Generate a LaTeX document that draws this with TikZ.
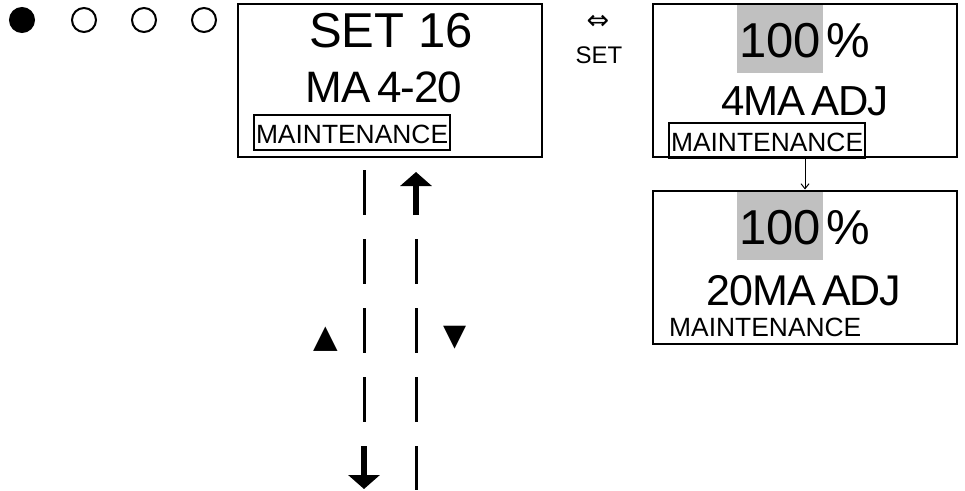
\documentclass[tikz,border=0pt]{standalone}
\usepackage{fontspec}
\setmainfont{Liberation Sans}
\newfontfamily\symfont{DejaVu Sans}
\newfontfamily\tightfont{Liberation Sans}[LetterSpace=-2.5, WordSpace=0.6]
\usetikzlibrary{arrows.meta,positioning}
\definecolor{lcdGray}{RGB}{192,192,192}

\begin{document}
\begin{tikzpicture}[x=1pt, y=-1pt,
  screen/.style={draw, line width=2pt, minimum width=304pt, minimum height=153pt, inner sep=0pt},
  led/.style={draw, circle, line width=2pt, minimum size=24pt, inner sep=0pt},
  bigtext/.style={font=\fontsize{49}{49}\selectfont, inner sep=0pt, anchor=base},
  midtext/.style={font=\tightfont\fontsize{44}{44}\selectfont, inner sep=0pt, anchor=base},
  modetext/.style={font=\fontsize{26.4}{26.4}\selectfont, inner sep=0pt, anchor=base west},
  modebox/.style={modetext, draw, line width=2pt, inner sep=2pt, text height=26pt, text depth=5pt},
  hilite/.style={bigtext, fill=lcdGray, inner ysep=0pt, inner xsep=1.8pt, text height=52pt, text depth=16pt, anchor=base east},
  dashline/.style={line width=3pt, dash pattern=on 45pt off 24pt},
  keyarrow/.style={line width=6pt, -{Triangle[width=31pt, length=14pt]}}]
  \useasboundingbox (0,0) rectangle (965,490);

  % mode indicators
  \node[led, fill] (led1) at (22,20) {};
  \node[led] (led2) at (84,20) {};
  \node[led] (led3) at (144,20) {};
  \node[led] (led4) at (204,20) {};

  % main screen
  \node[screen] (main) at (389.5,80) {};
  \node[bigtext] (setno) at (391,47) {SET 16};
  \node[midtext] (range) at (384,102) {MA 4-20};
  \node[modebox] (mode1) at (253,143) {MAINTENANCE};

  % SET key
  \node[font=\symfont\fontsize{27}{27}\selectfont, inner sep=0pt] (swap) at (598,22) {⇔};
  \node[font=\fontsize{24}{24}\selectfont, inner sep=0pt, anchor=base] (setkey) at (599,63) {SET};

  % 4 mA adjust screen
  \node[screen] (adj4) at (805,80) {};
  \node[hilite] (val4) at (823,57) {100};
  \node[bigtext, anchor=base west] (pct4) at (826,57) {\%};
  \node[midtext, font=\tightfont\fontsize{42}{42}\selectfont] (lbl4) at (805,115) {4MA ADJ};
  \node[modebox] (mode2) at (668,151) {MAINTENANCE};

  % 20 mA adjust screen
  \node[screen] (adj20) at (805,267) {};
  \node[hilite] (val20) at (823,244) {100};
  \node[bigtext, anchor=base west] (pct20) at (826,244) {\%};
  \node[midtext, font=\tightfont\fontsize{43}{43}\selectfont] (lbl20) at (804,305) {20MA ADJ};
  \node[modetext] (mode3) at (669,336) {MAINTENANCE};

  \draw[line width=1pt, -{Straight Barb[length=5pt, width=8pt]}] (adj4.south) -- (adj20.north);

  % up / down keys
  \coordinate (dnA) at (364,170);
  \coordinate (dnB) at (364,422);
  \coordinate (dnC) at (364,446);
  \coordinate (dnD) at (364,489);
  \coordinate (upA) at (416,490);
  \coordinate (upB) at (416,239);
  \coordinate (upC) at (416,215);
  \coordinate (upD) at (416,172);
  \draw[dashline] (dnA) -- (dnB);
  \draw[keyarrow] (dnC) -- (dnD);
  \draw[dashline] (upB) -- (upA);
  \draw[keyarrow] (upC) -- (upD);
  \node[font=\symfont\fontsize{32}{32}\selectfont, inner sep=0pt] (keyup) at (325.5,339.5) {▲};
  \node[font=\symfont\fontsize{30}{30}\selectfont, inner sep=0pt] (keydn) at (455,338) {▼};
\end{tikzpicture}
\end{document}
